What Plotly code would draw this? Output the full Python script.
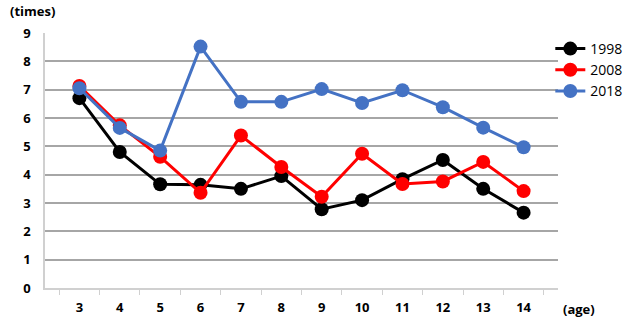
import plotly.graph_objects as go

ages = ["3", "4", "5", "6", "7", "8", "9", "10", "11", "12", "13", "14"]
y1998 = [6.7, 4.8, 3.66, 3.64, 3.5, 3.95, 2.78, 3.1, 3.84, 4.52, 3.5, 2.66]
y2008 = [7.13, 5.74, 4.63, 3.36, 5.38, 4.27, 3.22, 4.74, 3.67, 3.76, 4.45, 3.42]
y2018 = [7.05, 5.65, 4.85, 8.52, 6.57, 6.57, 7.02, 6.53, 6.98, 6.38, 5.66, 4.97]
series = [("1998", y1998, "#000000"), ("2008", y2008, "#ff0000"), ("2018", y2018, "#4472c4")]

fig = go.Figure()
for name, ys, col in series:
    fig.add_trace(go.Scatter(x=ages, y=ys, name=name, mode="lines+markers",
                             line=dict(color=col, width=3),
                             marker=dict(color=col, size=14)))

bold = dict(family="Open Sans", size=13, weight="bold", color="#000000")
fig.update_layout(
    width=624, height=324,
    margin=dict(l=45, r=66, t=33, b=36, autoexpand=False),
    paper_bgcolor="white", plot_bgcolor="white",
    font=dict(family="Open Sans", size=12, color="#000000"),
    legend=dict(x=0.985, xanchor="left", y=1.0, yanchor="top",
                font=dict(family="Open Sans", size=14),
                itemwidth=30, tracegroupgap=0, bgcolor="rgba(0,0,0,0)"),
    xaxis=dict(type="category", showgrid=False, showline=True, linecolor="#d0d0d0", linewidth=1.5,
               ticks="outside", tickson="boundaries", ticklen=5, tickcolor="#d0d0d0",
               tickfont=bold, ticklabelstandoff=7, zeroline=False),
    yaxis=dict(range=[0, 9], dtick=1, showgrid=True, gridcolor="#a6a6a6", gridwidth=1.5,
               showline=True, linecolor="#d0d0d0", linewidth=1.5, zeroline=False,
               tickfont=bold, ticks="", ticklabelstandoff=10),
    annotations=[
        dict(text="(times)", x=0, y=1, xref="paper", yref="paper", xanchor="left", yanchor="bottom",
             xshift=-37, yshift=11, showarrow=False, font=bold),
        dict(text="(age)", x=1, y=0, xref="paper", yref="paper", xanchor="left", yanchor="top",
             xshift=3, yshift=-10, showarrow=False, font=bold),
    ],
)
fig.write_html("out.html")
